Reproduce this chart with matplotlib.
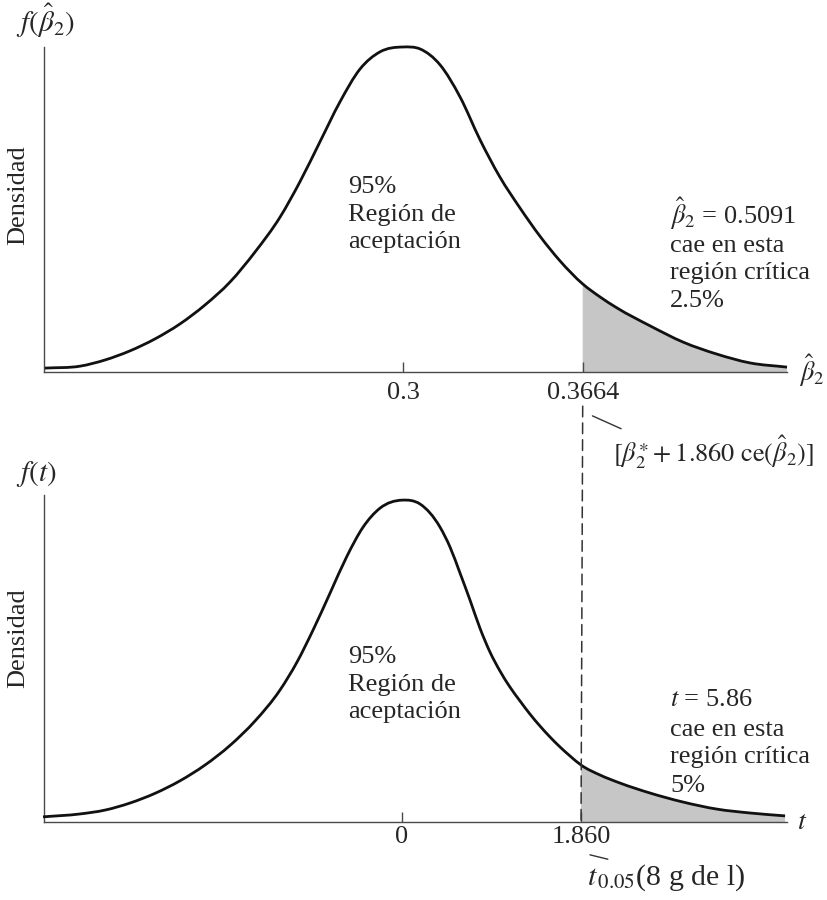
import numpy as np
import matplotlib
matplotlib.use('Agg')
import matplotlib.pyplot as plt
from matplotlib.path import Path
from matplotlib.patches import PathPatch, ConnectionPatch

plt.rcParams['font.family'] = ['Liberation Serif', 'DejaVu Serif']
plt.rcParams['mathtext.fontset'] = 'stix'

# ---------------- data ----------------
beta_x = [0.1677, 0.1807, 0.1899, 0.1991, 0.2084, 0.2176, 0.2268, 0.2361, 0.2453,
          0.2546, 0.2619, 0.2693, 0.2767, 0.2841, 0.2915, 0.3000, 0.3063, 0.3137,
          0.3211, 0.3285, 0.3358, 0.3432, 0.3506, 0.3580, 0.3664, 0.3728, 0.3791,
          0.3913, 0.4035, 0.4160, 0.4282, 0.4419]
beta_dens = [0.012, 0.018, 0.037, 0.065, 0.102, 0.148, 0.206, 0.277, 0.369,
             0.477, 0.585, 0.708, 0.831, 0.932, 0.985, 1.000, 0.994, 0.945,
             0.846, 0.714, 0.600, 0.505, 0.418, 0.342, 0.271, 0.231, 0.197,
             0.142, 0.092, 0.055, 0.028, 0.015]
beta_crit = 0.3664
beta_ticks = [0.3, 0.3664]
beta_tick_labels = ['0.3', '0.3664']

t_x = [-3.730, -3.346, -3.086, -2.826, -2.567, -2.307, -2.047, -1.787, -1.527,
       -1.268, -1.091, -0.925, -0.748, -0.572, -0.405, -0.229, 0.000, 0.187,
       0.395, 0.499, 0.603, 0.707, 0.810, 0.914, 1.018, 1.122, 1.226, 1.330,
       1.434, 1.538, 1.642, 1.746, 1.860, 2.057, 2.265, 2.577, 2.920, 3.273,
       3.616, 3.980]
t_dens = [0.016, 0.025, 0.037, 0.059, 0.089, 0.128, 0.177, 0.238, 0.314,
          0.410, 0.497, 0.596, 0.711, 0.826, 0.916, 0.975, 1.000, 0.988,
          0.916, 0.854, 0.773, 0.689, 0.602, 0.528, 0.469, 0.419, 0.376, 0.335,
          0.298, 0.264, 0.233, 0.205, 0.177, 0.146, 0.121, 0.090, 0.062, 0.040,
          0.028, 0.019]
t_crit = 1.860
t_ticks = [0, 1.860]
t_tick_labels = ['0', '1.860']

# ---------------- helpers ----------------
W, H = 828, 900
fig = plt.figure(figsize=(W / 100, H / 100), dpi=100)
TXT = '#262626'
FS = 19


def smooth_path(xs, ys, i0=0):
    """Smooth cubic (Hermite) curve through the points, as a Bezier path from index i0."""
    x = np.asarray(xs, float)
    y = np.asarray(ys, float)
    n = len(x)
    m = np.zeros(n)
    for i in range(n):
        if i == 0:
            m[i] = (y[1] - y[0]) / (x[1] - x[0])
        elif i == n - 1:
            m[i] = (y[-1] - y[-2]) / (x[-1] - x[-2])
        else:
            h0, h1 = x[i] - x[i - 1], x[i + 1] - x[i]
            d0, d1 = (y[i] - y[i - 1]) / h0, (y[i + 1] - y[i]) / h1
            m[i] = (d0 * h1 + d1 * h0) / (h0 + h1)
    verts = [(x[i0], y[i0])]
    codes = [Path.MOVETO]
    for i in range(i0, n - 1):
        dx = x[i + 1] - x[i]
        verts += [(x[i] + dx / 3, y[i] + m[i] * dx / 3),
                  (x[i + 1] - dx / 3, y[i + 1] - m[i + 1] * dx / 3),
                  (x[i + 1], y[i + 1])]
        codes += [Path.CURVE4] * 3
    return verts, codes


def px_axes(l, r, top, bottom):
    return fig.add_axes([l / W, 1 - bottom / H, (r - l) / W, (bottom - top) / H])


def panel(ax, xs, ys, crit, xlim, ylim, ticks, labels, pad):
    ax.set_xlim(*xlim)
    ax.set_ylim(*ylim)
    for s in ['top', 'right']:
        ax.spines[s].set_visible(False)
    for s in ['left', 'bottom']:
        ax.spines[s].set_color('#4a4a4a')
        ax.spines[s].set_linewidth(1.0)
    ax.set_yticks([])
    ax.set_xticks(ticks)
    ax.set_xticklabels(labels, fontsize=FS, color=TXT)
    ax.tick_params(axis='x', direction='in', length=7, width=1.0, color='#4a4a4a', pad=pad)
    ax.patch.set_alpha(0)
    # shaded critical region
    i0 = list(xs).index(crit)
    v, c = smooth_path(xs, ys, i0)
    v = [(crit, 0.0)] + list(v) + [(xs[-1], 0.0), (crit, 0.0)]
    c = [Path.MOVETO, Path.LINETO] + c[1:] + [Path.LINETO, Path.CLOSEPOLY]
    ax.add_patch(PathPatch(Path(v, c), facecolor='#c6c6c6', edgecolor='none', zorder=1))
    # curve
    v, c = smooth_path(xs, ys)
    ax.add_patch(PathPatch(Path(v, c), facecolor='none', edgecolor='#111111',
                           linewidth=2.0, zorder=3, clip_on=False))


def ftext(x, y, s, **kw):
    kw.setdefault('fontsize', FS)
    kw.setdefault('color', TXT)
    fig.text(x / W, 1 - y / H, s, **kw)


# ---------------- top panel ----------------
ax1 = px_axes(44, 787, 47, 372)
panel(ax1, beta_x, beta_dens, beta_crit, (0.16735, 0.44189), (0, 1.0),
      beta_ticks, beta_tick_labels, pad=7)

# ---------------- bottom panel ----------------
ax2 = px_axes(44, 787, 495, 822)
panel(ax2, t_x, t_dens, t_crit, (-3.720, 4.000), (0, 1.016),
      t_ticks, t_tick_labels, pad=3)

# dashed line connecting critical values
con = ConnectionPatch(xyA=(beta_crit, -0.105), coordsA=ax1.transData,
                      xyB=(t_crit, 0), coordsB=ax2.transData,
                      linestyle=(0, (7, 4)), linewidth=1.1, color='#333333')
fig.add_artist(con)

# axis titles
ftext(16, 32, r'$f(\hat{\beta}_2)$', fontsize=21, va='baseline')
ftext(16, 481, r'$f(t)$', fontsize=21, va='baseline')
ftext(18, 195, 'Densidad', rotation=90, ha='center', va='center')
ftext(18, 638, 'Densidad', rotation=90, ha='center', va='center')
ftext(799, 381, r'$\hat{\beta}_2$', fontsize=19, va='baseline')
ftext(797, 829, r'$t$', fontsize=20, va='baseline')

# inner texts
for y, s in zip([193, 221, 248], ['95%', 'Región de', 'aceptación']):
    ftext(348, y, s, va='baseline')
for y, s in zip([663, 691, 718], ['95%', 'Región de', 'aceptación']):
    ftext(348, y, s, va='baseline')
for y, s in zip([224, 252, 279, 307],
                [r'$\hat{\beta}_2$ = 0.5091', 'cae en esta', 'región crítica', '2.5%']):
    ftext(670, y, s, va='baseline')
for y, s in zip([706, 736, 763, 792],
                [r'$t$ = 5.86', 'cae en esta', 'región crítica', '5%']):
    ftext(670, y, s, va='baseline')

# leader lines and their labels
ax1.annotate(r'$[\beta_2^{\ast} + 1.860\ \mathrm{ce}(\hat{\beta}_2)]$',
             xy=(0.3700, -0.135), xycoords='data',
             xytext=(613 / W, 1 - 462 / H), textcoords='figure fraction',
             fontsize=FS, color=TXT, va='baseline', ha='left', annotation_clip=False,
             arrowprops=dict(arrowstyle='-', color='#333333', lw=1.0,
                             relpos=(0.09, 1.0), shrinkA=3, shrinkB=0))
ax2.annotate(r'$t_{\,0.05}$(8 g de l)',
             xy=(1.953, -0.102), xycoords='data',
             xytext=(587 / W, 1 - 885 / H), textcoords='figure fraction',
             fontsize=21.5, color=TXT, va='baseline', ha='left', annotation_clip=False,
             arrowprops=dict(arrowstyle='-', color='#333333', lw=1.0,
                             relpos=(0.22, 1.0), shrinkA=2, shrinkB=0))

fig.savefig('out.png', dpi=100, facecolor='white')
